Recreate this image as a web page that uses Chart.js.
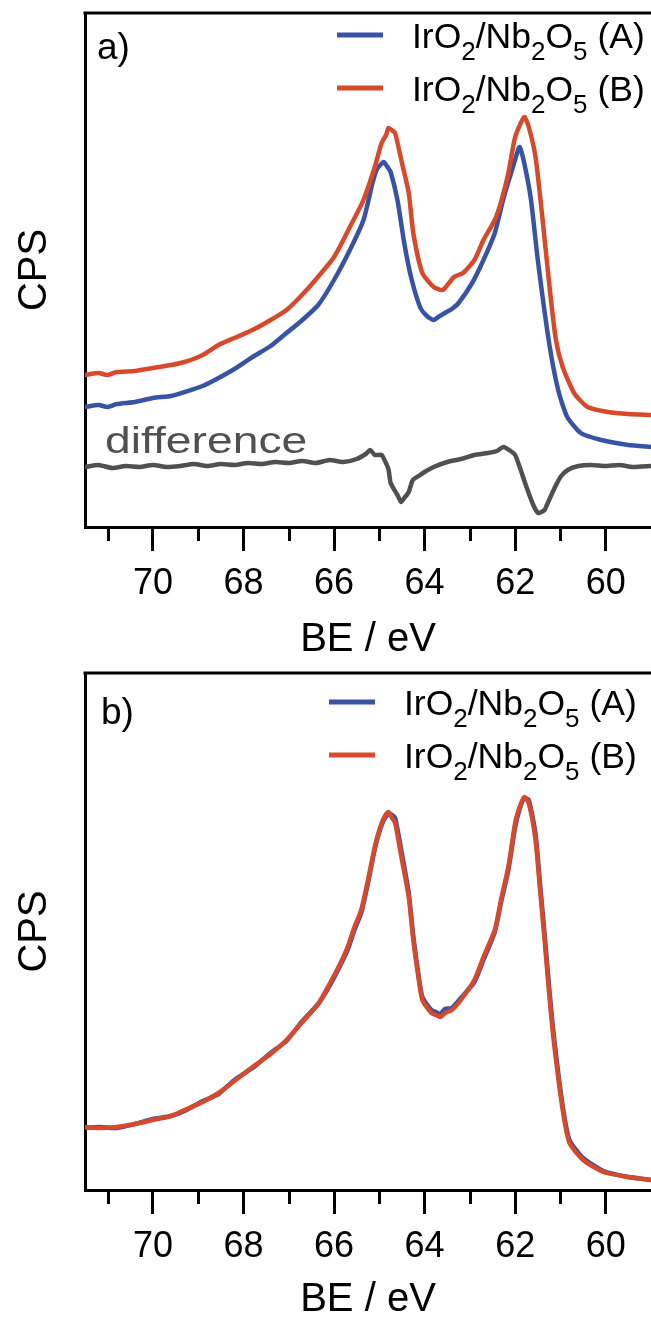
<!DOCTYPE html>
<html>
<head>
    <title>Ir 4f XPS spectra</title>
    <meta charset="UTF-8" />
    <script src="https://cdn.jsdelivr.net/npm/chart.js"></script>
    <style>
  html, body {
    margin: 0;
    padding: 0;
    overflow: hidden;
    background: #fff;
  }
  canvas {
    position: absolute;
    left: 0;
  }
  #chartA { top: 0; }
  #chartB { top: 658px; }
</style>
</head>
<body>
    <canvas id="chartA" width="651" height="660"></canvas>
    <canvas id="chartB" width="651" height="662"></canvas>
    <script>
        // ---- data (BE in eV, intensity in arbitrary CPS units) ----
        const labelA = 'IrO2/Nb2O5 (A)';
        const labelB = 'IrO2/Nb2O5 (B)';
        const minorTickValues = [71, 69, 67, 65, 63, 61];

        // panel a) raw spectra
        const beA1 = [71.5, 71.2, 71.0, 70.8, 70.4, 70.0, 69.6, 69.3, 68.9, 68.55, 68.2, 67.8, 67.4, 67.05, 66.75, 66.35, 66.0, 65.65, 65.35, 65.15, 65.05, 64.9, 64.82, 64.75, 64.6, 64.45, 64.3, 64.1, 63.95, 63.8, 63.7, 63.55, 63.4, 63.25, 62.95, 62.7, 62.45, 62.25, 62.05, 61.95, 61.9, 61.8, 61.65, 61.5, 61.25, 61.05, 60.85, 60.55, 60.1, 59.5, 59.0];
        const cpsA1 = [120, 122, 120, 123, 125, 129, 131, 135, 141, 149, 158, 170, 181, 194, 205, 222, 247, 277, 307, 344, 358, 365, 360, 355, 327, 284, 250, 220, 211, 207, 210, 214, 218, 224, 244, 267, 294, 330, 360, 375, 380, 364, 327, 267, 184, 137, 110, 94, 87, 82, 80];

        const beB1 = [71.5, 71.2, 71.0, 70.8, 70.4, 70.0, 69.6, 69.3, 68.9, 68.55, 68.2, 67.8, 67.4, 67.05, 66.75, 66.45, 66.0, 65.65, 65.35, 65.1, 64.95, 64.85, 64.8, 64.7, 64.65, 64.5, 64.35, 64.25, 64.05, 63.8, 63.6, 63.35, 63.15, 62.9, 62.7, 62.45, 62.3, 62.15, 62.0, 61.8, 61.7, 61.55, 61.4, 61.25, 61.1, 60.95, 60.7, 60.4, 59.95, 59.5, 59.0];
        const cpsB1 = [152, 154, 152, 155, 156, 159, 162, 165, 172, 182, 189, 197, 207, 217, 230, 245, 270, 300, 327, 360, 384, 392, 399, 396, 394, 364, 334, 294, 254, 240, 237, 250, 254, 267, 287, 307, 327, 354, 390, 410, 400, 370, 310, 244, 187, 160, 134, 120, 115, 113, 112];

        const beDiff = [71.5, 71.2, 70.9, 70.6, 70.3, 70.0, 69.7, 69.4, 69.1, 68.8, 68.5, 68.2, 67.9, 67.6, 67.3, 67.0, 66.7, 66.4, 66.1, 65.8, 65.5, 65.3, 65.2, 65.1, 64.95, 64.8, 64.75, 64.6, 64.52, 64.45, 64.35, 64.26, 64.1, 64.0, 63.8, 63.5, 63.2, 62.9, 62.6, 62.4, 62.26, 62.1, 62.0, 61.9, 61.75, 61.6, 61.49, 61.35, 61.3, 61.15, 61.0, 60.84, 60.6, 60.33, 60.0, 59.7, 59.4, 59.0];
        const cpsDiff = [60, 62, 59, 61, 60, 62, 60, 61, 63, 61, 63, 62, 64, 63, 65, 64, 66, 64, 67, 65, 68, 73, 77, 72, 72, 58, 44, 32, 25, 29, 35, 47, 52, 55, 60, 65, 68, 72, 74, 76, 80, 76, 72, 60, 40, 22, 14, 17, 22, 37, 50, 57, 61, 62, 61, 62, 60, 61];

        // panel b) normalised spectra
        const beA2 = [71.5, 71.2, 70.8, 70.4, 70.0, 69.6, 69.3, 68.9, 68.55, 68.2, 67.8, 67.4, 67.05, 66.7, 66.35, 66.1, 65.9, 65.7, 65.55, 65.4, 65.25, 65.1, 65.0, 64.9, 64.8, 64.72, 64.65, 64.5, 64.35, 64.25, 64.15, 64.05, 63.85, 63.75, 63.65, 63.55, 63.4, 63.2, 62.9, 62.7, 62.45, 62.3, 62.15, 62.0, 61.9, 61.8, 61.7, 61.55, 61.45, 61.35, 61.25, 61.15, 60.95, 60.8, 60.5, 60.05, 59.5, 59.0];
        const cpsA2 = [62, 63, 62, 66, 71, 74, 79, 89, 96, 110, 122, 137, 149, 169, 186, 204, 221, 240, 260, 277, 307, 341, 358, 370, 376, 375, 372, 336, 297, 254, 220, 193, 180, 178, 176, 181, 182, 192, 208, 230, 258, 290, 320, 363, 381, 392, 390, 356, 306, 256, 203, 156, 84, 50, 32, 19, 13, 10];

        const beB2 = beA2.slice();
        const cpsB2 = [63, 62, 63, 66, 70, 74, 80, 88, 97, 109, 123, 136, 150, 168, 186, 206, 223, 243, 263, 280, 310, 343, 360, 372, 378, 372, 367, 330, 293, 250, 217, 190, 177, 175, 173, 177, 180, 190, 210, 233, 260, 293, 323, 367, 383, 393, 387, 350, 300, 250, 197, 150, 80, 47, 30, 18, 13, 10];

        const FONT = "'Liberation Sans', Arial, Helvetica, sans-serif";
        const BLUE = '#3953a4';
        const RED = '#d64a2b';
        const GREY = '#505050';

        Chart.defaults.font.family = FONT;
        Chart.defaults.color = '#000';

        function xy(be, cps) {
            return be.map((v, i) => ({ x: v, y: cps[i] }));
        }

        // text with subscript digits (IrO2 -> IrO₂)
        function drawChem(ctx, text, x, y, size, subSize, drop) {
            let cx = x;
            for (let i = 0; i < text.length; i++) {
                const ch = text[i];
                const sub = /\d/.test(ch) && i > 0 && /[A-Za-z]/.test(text[i - 1]);
                ctx.font = (sub ? subSize : size) + 'px ' + FONT;
                ctx.fillText(ch, cx, sub ? y + drop : y);
                cx += ctx.measureText(ch).width;
            }
        }

        // frame top line, minor ticks, legend and panel labels
        const decorations = {
            id: 'decorations',
            afterDraw(chart, args, opts) {
                const { ctx, chartArea: ca, scales: { x } } = chart;
                ctx.save();
                ctx.strokeStyle = '#000';
                ctx.lineWidth = 3;
                ctx.beginPath();
                ctx.moveTo(ca.left - 1.5, ca.top);
                ctx.lineTo(ca.right, ca.top);
                ctx.stroke();
                minorTickValues.forEach(v => {
                    const px = Math.round(x.getPixelForValue(v)) + 0.5;
                    ctx.beginPath();
                    ctx.moveTo(px, ca.bottom);
                    ctx.lineTo(px, ca.bottom + 14);
                    ctx.stroke();
                });

                // legend
                ctx.textBaseline = 'alphabetic';
                ctx.textAlign = 'left';
                const items = chart.data.datasets.filter(d => d.inLegend);
                items.forEach((d, i) => {
                    const ly = ca.top + opts.legendY + i * 53;
                    ctx.strokeStyle = d.borderColor;
                    ctx.lineWidth = 5;
                    ctx.beginPath();
                    ctx.moveTo(ca.left + opts.legendX, ly);
                    ctx.lineTo(ca.left + opts.legendX + 46, ly);
                    ctx.stroke();
                    ctx.fillStyle = '#000';
                    drawChem(ctx, d.label, ca.left + opts.legendX + 75, ly + 13, 35.5, 26, 12);
                });

                // panel letter
                ctx.fillStyle = '#000';
                ctx.font = '37px ' + FONT;
                ctx.fillText(opts.panel, ca.left + opts.panelX, ca.top + opts.panelY);

                if (opts.note) {
                    ctx.fillStyle = GREY;
                    ctx.font = '37px ' + FONT;
                    ctx.translate(ca.left + 20, ca.top + 440);
                    ctx.scale(1.25, 1);
                    ctx.fillText(opts.note, 0, 0);
                }
                ctx.restore();
            }
        };

        function makeChart(id, datasets, yMax, topPad, xHeight, deco) {
            const ctx = document.getElementById(id).getContext('2d');
            return new Chart(ctx, {
                type: 'line',
                data: { datasets: datasets },
                options: {
                    responsive: false,
                    animation: false,
                    devicePixelRatio: 1,
                    layout: { padding: { top: topPad, right: 0, bottom: 0, left: 0 } },
                    elements: {
                        point: { radius: 0 },
                        line: { borderWidth: 4.5, tension: 0.2, borderJoinStyle: 'round', borderCapStyle: 'round' }
                    },
                    plugins: {
                        legend: { display: false },
                        tooltip: { enabled: false },
                        decorations: deco
                    },
                    scales: {
                        x: {
                            type: 'linear',
                            reverse: true,
                            min: 59,
                            max: 71.5,
                            ticks: { stepSize: 2, includeBounds: false, font: { size: 36 }, color: '#000', padding: 11, maxRotation: 0, autoSkip: false },
                            grid: { display: true, drawOnChartArea: false, drawTicks: true, tickLength: 24, tickWidth: 3, tickColor: '#000' },
                            border: { display: true, width: 3, color: '#000' },
                            title: { display: true, text: 'BE / eV', font: { size: 40, lineHeight: 1 }, color: '#000', padding: 0 },
                            afterFit: s => { s.height = xHeight; }
                        },
                        y: {
                            min: 0,
                            max: yMax,
                            ticks: { display: false },
                            grid: { display: false },
                            border: { display: true, width: 3, color: '#000' },
                            title: { display: true, text: 'CPS', font: { size: 40, lineHeight: 1 }, color: '#000', padding: { top: 15, bottom: 0 } },
                            afterFit: s => { s.width = 85; }
                        }
                    }
                },
                plugins: [decorations]
            });
        }

        makeChart('chartA', [
            { label: labelA, data: xy(beA1, cpsA1), borderColor: BLUE, inLegend: true, order: 2 },
            { label: labelB, data: xy(beB1, cpsB1), borderColor: RED, inLegend: true, order: 1 },
            { label: 'difference', data: xy(beDiff, cpsDiff), borderColor: GREY, inLegend: false, order: 0 }
        ], 514, 13, 133, { panel: 'a)', panelX: 12, panelY: 46, legendX: 252, legendY: 22, note: 'difference' });

        makeChart('chartB', [
            { label: labelA, data: xy(beA2, cpsA2), borderColor: BLUE, inLegend: true, order: 1 },
            { label: labelB, data: xy(beB2, cpsB2), borderColor: RED, inLegend: true, order: 0 }
        ], 517, 15, 130, { panel: 'b)', panelX: 16, panelY: 51, legendX: 244, legendY: 29 });
    </script>
</body>
</html>
